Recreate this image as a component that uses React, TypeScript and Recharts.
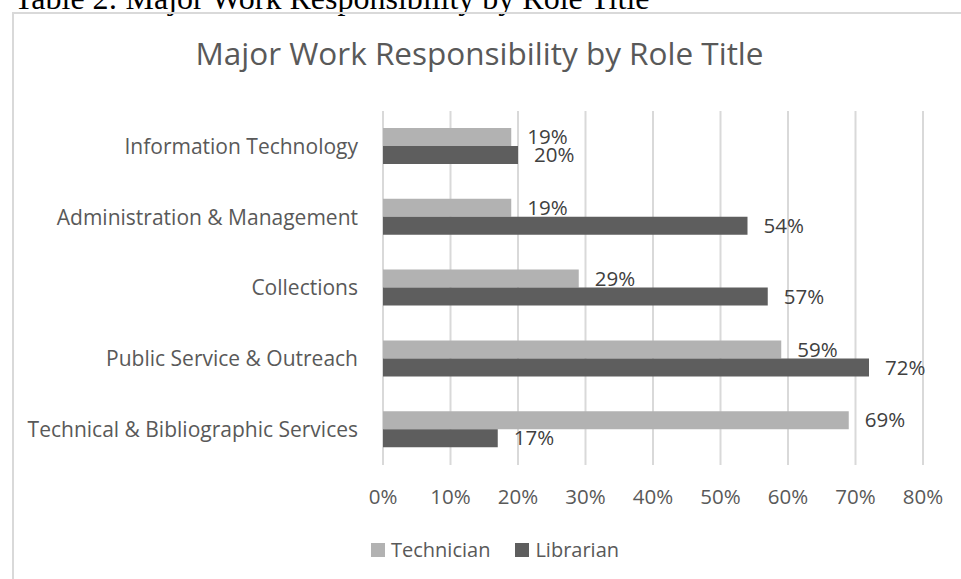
import React from 'react';
import { BarChart, Bar, XAxis, YAxis, CartesianGrid, LabelList } from 'recharts';

// Chart values
const categories = [
  'Information Technology',
  'Administration & Management',
  'Collections',
  'Public Service & Outreach',
  'Technical & Bibliographic Services',
];
const technician = [19, 19, 29, 59, 69];
const librarian = [20, 54, 57, 72, 17];
const xTicks = [0, 10, 20, 30, 40, 50, 60, 70, 80];

const data = categories.map((name, i) => ({
  name,
  technician: technician[i],
  librarian: librarian[i],
}));

const FONT = '"Open Sans", Lato, sans-serif';
const TEXT = '#595959';
const TECH_COLOR = '#b2b2b2';
const LIB_COLOR = '#5e5e5e';

const App = () => {
  return (
    <div style={{ position: 'absolute', left: 0, top: 0, width: 961, height: 579, overflow: 'hidden', background: '#fff' }}>
      {/* Caption above the chart (cut off at the top) */}
      <div
        style={{
          position: 'absolute',
          left: 14,
          top: -18,
          fontFamily: '"Liberation Serif", "Times New Roman", serif',
          fontSize: 32,
          lineHeight: '32px',
          color: '#000',
          whiteSpace: 'nowrap',
        }}
      >
        Table 2: Major Work Responsibility by Role Title
      </div>

      {/* Chart frame */}
      <div
        style={{
          position: 'absolute',
          left: 12,
          top: 12,
          width: 1000,
          height: 700,
          borderTop: '2px solid #d9d9d9',
          borderLeft: '2px solid #d9d9d9',
        }}
      />

      {/* Title */}
      <div
        style={{
          position: 'absolute',
          left: 0,
          width: 959,
          top: 37,
          textAlign: 'center',
          fontFamily: FONT,
          fontSize: 31.5,
          lineHeight: '31.5px',
          color: TEXT,
          whiteSpace: 'nowrap',
        }}
      >
        Major Work Responsibility by Role Title
      </div>

      <div style={{ position: 'absolute', left: 0, top: 0 }}>
        <BarChart
          width={961}
          height={579}
          data={data}
          layout="vertical"
          margin={{ top: 111, right: 38, bottom: 84, left: 0 }}
          barCategoryGap="24%"
          barGap={0}
        >
          <CartesianGrid horizontal={false} stroke="#d9d9d9" strokeWidth={2} />
          <XAxis
            type="number"
            domain={[0, 80]}
            ticks={xTicks}
            interval={0}
            height={30}
            axisLine={false}
            tickLine={false}
            tickSize={0}
            tickMargin={24}
            tick={{ fill: TEXT, fontSize: 20.5, fontFamily: FONT }}
            tickFormatter={(v) => `${v}%`}
          />
          <YAxis
            type="category"
            dataKey="name"
            width={383}
            axisLine={false}
            tickLine={false}
            tickSize={0}
            tickMargin={25}
            interval={0}
            tick={{ fill: TEXT, fontSize: 21, fontFamily: FONT }}
          />
          <Bar dataKey="technician" name="Technician" fill={TECH_COLOR} isAnimationActive={false}>
            <LabelList
              dataKey="technician"
              position="right"
              offset={16}
              formatter={(v) => `${v}%`}
              style={{ fill: '#404040', fontSize: 20.5, fontFamily: FONT }}
            />
          </Bar>
          <Bar dataKey="librarian" name="Librarian" fill={LIB_COLOR} isAnimationActive={false}>
            <LabelList
              dataKey="librarian"
              position="right"
              offset={16}
              formatter={(v) => `${v}%`}
              style={{ fill: '#404040', fontSize: 20.5, fontFamily: FONT }}
            />
          </Bar>
        </BarChart>
      </div>

      {/* Legend */}
      <div
        style={{
          position: 'absolute',
          left: 371,
          top: 538,
          display: 'flex',
          alignItems: 'center',
          gap: 25,
          fontFamily: FONT,
          fontSize: 20,
          lineHeight: '24px',
          color: TEXT,
        }}
      >
        <div style={{ display: 'flex', alignItems: 'center', gap: 6 }}>
          <div style={{ width: 14, height: 14, background: TECH_COLOR }} />
          <span>Technician</span>
        </div>
        <div style={{ display: 'flex', alignItems: 'center', gap: 6 }}>
          <div style={{ width: 14, height: 14, background: LIB_COLOR }} />
          <span>Librarian</span>
        </div>
      </div>
    </div>
  );
};

export default App;
